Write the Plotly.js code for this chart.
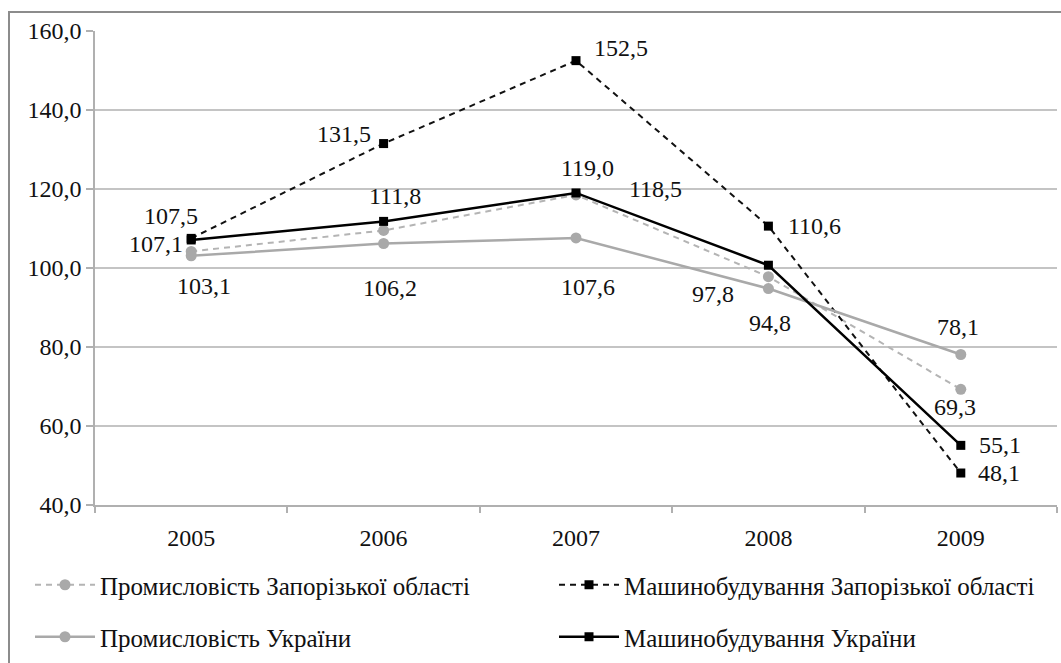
<!DOCTYPE html>
<html>
<head>
<meta charset="utf-8">
<script src="https://cdn.plot.ly/plotly-3.0.1.min.js"></script>
<style>
  html, body { margin: 0; padding: 0; background: #fff; }
  #wrap { position: relative; width: 1061px; height: 663px; overflow: hidden; }
  #chart { width: 1061px; height: 663px; }
  #frame { position: absolute; left: 8px; top: 11px; width: 1100px; height: 700px;
           border-top: 2px solid #8c8c8c; border-left: 2px solid #8c8c8c; pointer-events: none; }
</style>
</head>
<body>
<div id="wrap">
  <div id="chart"></div>
  <div id="frame"></div>
</div>
<script>
// ---- data ----
const years = ['2005', '2006', '2007', '2008', '2009'];
const seriesNames = [
  'Промисловість Запорізької області',
  'Машинобудування Запорізької області',
  'Промисловість України',
  'Машинобудування України'
];
const zapIndustry = [104.2, 109.5, 118.5, 97.8, 69.3];
const zapMachinery = [107.5, 131.5, 152.5, 110.6, 48.1];
const ukrIndustry = [103.1, 106.2, 107.6, 94.8, 78.1];
const ukrMachinery = [107.1, 111.8, 119.0, 100.7, 55.1];
const yTickValues = [40, 60, 80, 100, 120, 140, 160];

// ---- label placement (pixel offsets [dx, dyUp]; null = label not shown) ----
const zapIndustryLabelOffsets = [null, null, [79, 6], [-55, -17], [-6, -18]];
const zapMachineryLabelOffsets = [[-20, 22], [-40, 10], [45, 13], [46, 0], [38, 0]];
const ukrIndustryLabelOffsets = [[13, -30], [6, -44], [12, -49], [2, -34], [-3, 28]];
const ukrMachineryLabelOffsets = [[-35, -4], [11, 25], [11, 25], null, [39, 0]];

const FONT = 'Liberation Serif';
const fmt = v => v.toFixed(1).replace('.', ',');

const traces = [
  {
    name: seriesNames[0], x: years, y: zapIndustry, mode: 'lines+markers',
    line: { color: '#b4b4b4', width: 2, dash: '6px,5px' },
    marker: { symbol: 'circle', size: 11, color: '#a9a9a9' },
    legend: 'legend'
  },
  {
    name: seriesNames[1], x: years, y: zapMachinery, mode: 'lines+markers',
    line: { color: '#111', width: 2, dash: '6px,5px' },
    marker: { symbol: 'square', size: 9, color: '#000' },
    legend: 'legend2'
  },
  {
    name: seriesNames[2], x: years, y: ukrIndustry, mode: 'lines+markers',
    line: { color: '#a9a9a9', width: 2.5 },
    marker: { symbol: 'circle', size: 11, color: '#a9a9a9' },
    legend: 'legend3'
  },
  {
    name: seriesNames[3], x: years, y: ukrMachinery, mode: 'lines+markers',
    line: { color: '#000', width: 2.5 },
    marker: { symbol: 'square', size: 9, color: '#000' },
    legend: 'legend4'
  }
];

const annotations = [];
function addLabels(values, offsets) {
  values.forEach((v, i) => {
    const off = offsets[i];
    if (!off) return;
    annotations.push({
      x: i, y: v, xref: 'x', yref: 'y',
      text: fmt(v), showarrow: false,
      xanchor: 'center', yanchor: 'middle',
      xshift: off[0], yshift: off[1],
      font: { family: FONT, size: 24, color: '#111' }
    });
  });
}
addLabels(zapIndustry, zapIndustryLabelOffsets);
addLabels(zapMachinery, zapMachineryLabelOffsets);
addLabels(ukrIndustry, ukrIndustryLabelOffsets);
addLabels(ukrMachinery, ukrMachineryLabelOffsets);

// legend box left edges (px) and row centres (px)
const PLOT_L = 95, PLOT_W = 962, PLOT_B = 506, PLOT_H = 475;
const legendCol = [30, 554];
const legendRow = [585, 637];
function legendAt(col, row) {
  return {
    orientation: 'h',
    x: (legendCol[col] - PLOT_L) / PLOT_W, xanchor: 'left',
    y: (PLOT_B - legendRow[row]) / PLOT_H, yanchor: 'middle',
    font: { family: FONT, size: 25, color: '#111' },
    itemwidth: 60,
    bgcolor: 'rgba(0,0,0,0)', borderwidth: 0
  };
}

const layout = {
  width: 1061, height: 663,
  margin: { l: 95, r: 4, t: 31, b: 157 },
  paper_bgcolor: '#fff', plot_bgcolor: '#fff',
  separators: ', ',
  font: { family: FONT, size: 24, color: '#111' },
  showlegend: true,
  legend: legendAt(0, 0),
  legend2: legendAt(1, 0),
  legend3: legendAt(0, 1),
  legend4: legendAt(1, 1),
  xaxis: {
    type: 'category', range: [-0.5, 4.5],
    showgrid: false, zeroline: false,
    showline: true, linecolor: '#b0b0b0', linewidth: 1.5,
    ticks: 'outside', tickson: 'boundaries', ticklen: 6, tickcolor: '#b0b0b0', tickwidth: 1.5,
    ticklabelstandoff: 10,
    tickfont: { family: FONT, size: 24, color: '#111' },
    fixedrange: true
  },
  yaxis: {
    range: [40, 160], tickvals: yTickValues, tickformat: '.1f',
    showgrid: true, gridcolor: '#c4c4c4', gridwidth: 1.5,
    zeroline: false,
    showline: true, linecolor: '#b0b0b0', linewidth: 1.5,
    ticks: 'outside', ticklen: 7, tickcolor: '#b0b0b0', tickwidth: 1.5,
    tickfont: { family: FONT, size: 24, color: '#111' },
    fixedrange: true
  },
  annotations: annotations
};

Plotly.newPlot('chart', traces, layout, { displayModeBar: false });
</script>
</body>
</html>
